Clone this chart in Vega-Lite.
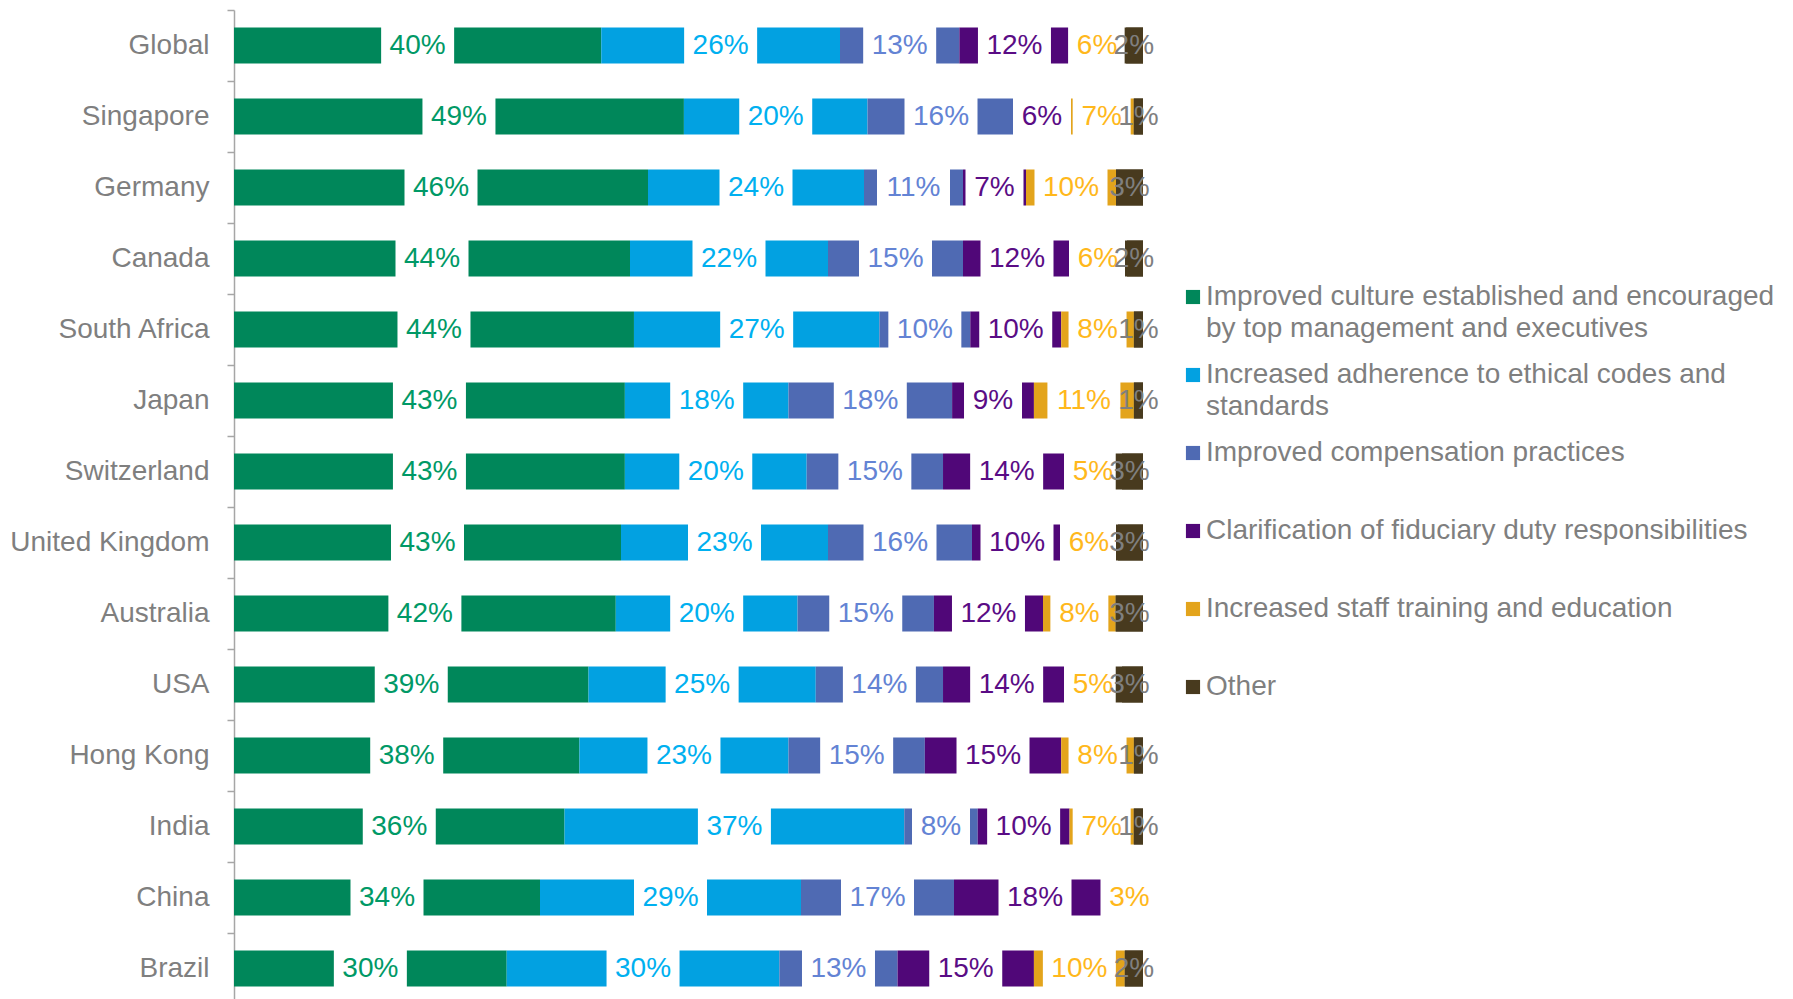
{
  "$schema": "https://vega.github.io/schema/vega-lite/v6.json",
  "autosize": {"type": "none"},
  "width": 909,
  "height": 989,
  "padding": {"left": 234, "top": 10, "right": 650, "bottom": 0},
  "background": "white",
  "config": {
    "font": "Liberation Sans",
    "view": {"stroke": null},
    "style": {"guide-label": {"lineHeight": 32}}
  },
  "data": {
    "values": [
      {"country": "Global", "category": "Improved culture established and encouraged by top management and executives", "k": 1, "value": 0.40},
      {"country": "Global", "category": "Increased adherence to ethical codes and standards", "k": 2, "value": 0.26},
      {"country": "Global", "category": "Improved compensation practices", "k": 3, "value": 0.13},
      {"country": "Global", "category": "Clarification of fiduciary duty responsibilities", "k": 4, "value": 0.12},
      {"country": "Global", "category": "Increased staff training and education", "k": 5, "value": 0.06},
      {"country": "Global", "category": "Other", "k": 6, "value": 0.02},
      {"country": "Singapore", "category": "Improved culture established and encouraged by top management and executives", "k": 1, "value": 0.49},
      {"country": "Singapore", "category": "Increased adherence to ethical codes and standards", "k": 2, "value": 0.20},
      {"country": "Singapore", "category": "Improved compensation practices", "k": 3, "value": 0.16},
      {"country": "Singapore", "category": "Clarification of fiduciary duty responsibilities", "k": 4, "value": 0.06},
      {"country": "Singapore", "category": "Increased staff training and education", "k": 5, "value": 0.07},
      {"country": "Singapore", "category": "Other", "k": 6, "value": 0.01},
      {"country": "Germany", "category": "Improved culture established and encouraged by top management and executives", "k": 1, "value": 0.46},
      {"country": "Germany", "category": "Increased adherence to ethical codes and standards", "k": 2, "value": 0.24},
      {"country": "Germany", "category": "Improved compensation practices", "k": 3, "value": 0.11},
      {"country": "Germany", "category": "Clarification of fiduciary duty responsibilities", "k": 4, "value": 0.07},
      {"country": "Germany", "category": "Increased staff training and education", "k": 5, "value": 0.10},
      {"country": "Germany", "category": "Other", "k": 6, "value": 0.03},
      {"country": "Canada", "category": "Improved culture established and encouraged by top management and executives", "k": 1, "value": 0.44},
      {"country": "Canada", "category": "Increased adherence to ethical codes and standards", "k": 2, "value": 0.22},
      {"country": "Canada", "category": "Improved compensation practices", "k": 3, "value": 0.15},
      {"country": "Canada", "category": "Clarification of fiduciary duty responsibilities", "k": 4, "value": 0.12},
      {"country": "Canada", "category": "Increased staff training and education", "k": 5, "value": 0.06},
      {"country": "Canada", "category": "Other", "k": 6, "value": 0.02},
      {"country": "South Africa", "category": "Improved culture established and encouraged by top management and executives", "k": 1, "value": 0.44},
      {"country": "South Africa", "category": "Increased adherence to ethical codes and standards", "k": 2, "value": 0.27},
      {"country": "South Africa", "category": "Improved compensation practices", "k": 3, "value": 0.10},
      {"country": "South Africa", "category": "Clarification of fiduciary duty responsibilities", "k": 4, "value": 0.10},
      {"country": "South Africa", "category": "Increased staff training and education", "k": 5, "value": 0.08},
      {"country": "South Africa", "category": "Other", "k": 6, "value": 0.01},
      {"country": "Japan", "category": "Improved culture established and encouraged by top management and executives", "k": 1, "value": 0.43},
      {"country": "Japan", "category": "Increased adherence to ethical codes and standards", "k": 2, "value": 0.18},
      {"country": "Japan", "category": "Improved compensation practices", "k": 3, "value": 0.18},
      {"country": "Japan", "category": "Clarification of fiduciary duty responsibilities", "k": 4, "value": 0.09},
      {"country": "Japan", "category": "Increased staff training and education", "k": 5, "value": 0.11},
      {"country": "Japan", "category": "Other", "k": 6, "value": 0.01},
      {"country": "Switzerland", "category": "Improved culture established and encouraged by top management and executives", "k": 1, "value": 0.43},
      {"country": "Switzerland", "category": "Increased adherence to ethical codes and standards", "k": 2, "value": 0.20},
      {"country": "Switzerland", "category": "Improved compensation practices", "k": 3, "value": 0.15},
      {"country": "Switzerland", "category": "Clarification of fiduciary duty responsibilities", "k": 4, "value": 0.14},
      {"country": "Switzerland", "category": "Increased staff training and education", "k": 5, "value": 0.05},
      {"country": "Switzerland", "category": "Other", "k": 6, "value": 0.03},
      {"country": "United Kingdom", "category": "Improved culture established and encouraged by top management and executives", "k": 1, "value": 0.43},
      {"country": "United Kingdom", "category": "Increased adherence to ethical codes and standards", "k": 2, "value": 0.23},
      {"country": "United Kingdom", "category": "Improved compensation practices", "k": 3, "value": 0.16},
      {"country": "United Kingdom", "category": "Clarification of fiduciary duty responsibilities", "k": 4, "value": 0.10},
      {"country": "United Kingdom", "category": "Increased staff training and education", "k": 5, "value": 0.06},
      {"country": "United Kingdom", "category": "Other", "k": 6, "value": 0.03},
      {"country": "Australia", "category": "Improved culture established and encouraged by top management and executives", "k": 1, "value": 0.42},
      {"country": "Australia", "category": "Increased adherence to ethical codes and standards", "k": 2, "value": 0.20},
      {"country": "Australia", "category": "Improved compensation practices", "k": 3, "value": 0.15},
      {"country": "Australia", "category": "Clarification of fiduciary duty responsibilities", "k": 4, "value": 0.12},
      {"country": "Australia", "category": "Increased staff training and education", "k": 5, "value": 0.08},
      {"country": "Australia", "category": "Other", "k": 6, "value": 0.03},
      {"country": "USA", "category": "Improved culture established and encouraged by top management and executives", "k": 1, "value": 0.39},
      {"country": "USA", "category": "Increased adherence to ethical codes and standards", "k": 2, "value": 0.25},
      {"country": "USA", "category": "Improved compensation practices", "k": 3, "value": 0.14},
      {"country": "USA", "category": "Clarification of fiduciary duty responsibilities", "k": 4, "value": 0.14},
      {"country": "USA", "category": "Increased staff training and education", "k": 5, "value": 0.05},
      {"country": "USA", "category": "Other", "k": 6, "value": 0.03},
      {"country": "Hong Kong", "category": "Improved culture established and encouraged by top management and executives", "k": 1, "value": 0.38},
      {"country": "Hong Kong", "category": "Increased adherence to ethical codes and standards", "k": 2, "value": 0.23},
      {"country": "Hong Kong", "category": "Improved compensation practices", "k": 3, "value": 0.15},
      {"country": "Hong Kong", "category": "Clarification of fiduciary duty responsibilities", "k": 4, "value": 0.15},
      {"country": "Hong Kong", "category": "Increased staff training and education", "k": 5, "value": 0.08},
      {"country": "Hong Kong", "category": "Other", "k": 6, "value": 0.01},
      {"country": "India", "category": "Improved culture established and encouraged by top management and executives", "k": 1, "value": 0.36},
      {"country": "India", "category": "Increased adherence to ethical codes and standards", "k": 2, "value": 0.37},
      {"country": "India", "category": "Improved compensation practices", "k": 3, "value": 0.08},
      {"country": "India", "category": "Clarification of fiduciary duty responsibilities", "k": 4, "value": 0.10},
      {"country": "India", "category": "Increased staff training and education", "k": 5, "value": 0.07},
      {"country": "India", "category": "Other", "k": 6, "value": 0.01},
      {"country": "China", "category": "Improved culture established and encouraged by top management and executives", "k": 1, "value": 0.34},
      {"country": "China", "category": "Increased adherence to ethical codes and standards", "k": 2, "value": 0.29},
      {"country": "China", "category": "Improved compensation practices", "k": 3, "value": 0.17},
      {"country": "China", "category": "Clarification of fiduciary duty responsibilities", "k": 4, "value": 0.18},
      {"country": "China", "category": "Increased staff training and education", "k": 5, "value": 0.03},
      {"country": "Brazil", "category": "Improved culture established and encouraged by top management and executives", "k": 1, "value": 0.30},
      {"country": "Brazil", "category": "Increased adherence to ethical codes and standards", "k": 2, "value": 0.30},
      {"country": "Brazil", "category": "Improved compensation practices", "k": 3, "value": 0.13},
      {"country": "Brazil", "category": "Clarification of fiduciary duty responsibilities", "k": 4, "value": 0.15},
      {"country": "Brazil", "category": "Increased staff training and education", "k": 5, "value": 0.10},
      {"country": "Brazil", "category": "Other", "k": 6, "value": 0.02}
    ]
  },
  "encoding": {
    "y": {
      "field": "country",
      "type": "nominal",
      "sort": ["Global", "Singapore", "Germany", "Canada", "South Africa", "Japan", "Switzerland", "United Kingdom", "Australia", "USA", "Hong Kong", "India", "China", "Brazil"],
      "scale": {"paddingInner": 0, "paddingOuter": 0, "range": [0, 994]},
      "axis": {
        "title": null,
        "labelFontSize": 28,
        "labelColor": "#7f7f7f",
        "labelPadding": 18,
        "tickSize": 7,
        "tickColor": "#a6a6a6",
        "domainColor": "#a6a6a6",
        "domainWidth": 1.5,
        "tickWidth": 1.5,
        "tickBand": "extent",
        "grid": false,
        "labelLimit": 400
      }
    }
  },
  "layer": [
    {
      "mark": {"type": "bar", "opacity": 1, "size": 36},
      "encoding": {
        "x": {"field": "value", "type": "quantitative", "stack": "normalize", "axis": null, "scale": {"domain": [0, 1], "nice": false}},
        "order": {"field": "k"},
        "color": {
          "field": "category",
          "type": "nominal",
          "scale": {
            "domain": ["Improved culture established and encouraged by top management and executives", "Increased adherence to ethical codes and standards", "Improved compensation practices", "Clarification of fiduciary duty responsibilities", "Increased staff training and education", "Other"],
            "range": ["#00875a", "#02a1e1", "#4f6ab3", "#500778", "#e3a41c", "#483a1e"]
          },
          "legend": {
            "orient": "none",
            "legendX": 945,
            "legendY": 273,
            "title": null,
            "labelFontSize": 28,
            "labelColor": "#7f7f7f",
            "labelLimit": 800,
            "labelOffset": -1,
            "symbolType": "square",
            "symbolSize": 200,
            "symbolStrokeWidth": 0,
            "rowPadding": 18,
            "gridAlign": "all",
            "labelExpr": "datum.label === 'Improved culture established and encouraged by top management and executives' ? ['Improved culture established and encouraged', 'by top management and executives'] : datum.label === 'Increased adherence to ethical codes and standards' ? ['Increased adherence to ethical codes and', 'standards'] : datum.label"
          }
        }
      }
    },
    {
      "mark": {"type": "tick", "color": "white", "thickness": 73, "size": 40},
      "encoding": {
        "x": {"field": "value", "type": "quantitative", "stack": "normalize", "bandPosition": 0.5},
        "order": {"field": "k"},
        "detail": {"field": "category"},
        "opacity": {"condition": {"test": "datum.category !== 'Other' && datum.value >= 0.095", "value": 1}, "value": 0}
      }
    },
    {
      "mark": {"type": "tick", "color": "white", "thickness": 58, "size": 40},
      "encoding": {
        "x": {"field": "value", "type": "quantitative", "stack": "normalize", "bandPosition": 0.5},
        "order": {"field": "k"},
        "detail": {"field": "category"},
        "opacity": {"condition": {"test": "datum.category !== 'Other' && datum.value < 0.095", "value": 1}, "value": 0}
      }
    },
    {
      "mark": {"type": "bar", "size": 36},
      "encoding": {
        "x": {"field": "value", "type": "quantitative", "stack": "normalize"},
        "order": {"field": "k"},
        "color": {"field": "category", "type": "nominal"},
        "opacity": {"condition": {"test": "datum.category === 'Other'", "value": 1}, "value": 0}
      }
    },
    {
      "mark": {"type": "text", "fontSize": 28, "align": "center", "baseline": "middle"},
      "encoding": {
        "x": {"field": "value", "type": "quantitative", "stack": "normalize", "bandPosition": 0.5},
        "order": {"field": "k"},
        "detail": {"field": "category"},
        "text": {"field": "value", "type": "quantitative", "format": ".0%"},
        "fill": {
          "field": "category",
          "type": "nominal",
          "legend": null,
          "scale": {
            "domain": ["Improved culture established and encouraged by top management and executives", "Increased adherence to ethical codes and standards", "Improved compensation practices", "Clarification of fiduciary duty responsibilities", "Increased staff training and education", "Other"],
            "range": ["#009966", "#00b0f0", "#6383d4", "#5a0c85", "#ffb81c", "#7f7f7f"]
          }
        }
      }
    }
  ]
}
